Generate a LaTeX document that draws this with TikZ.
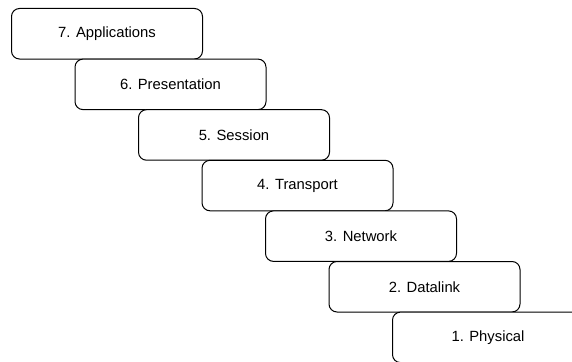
\documentclass[tikz,border=0pt]{standalone}
\usepackage{fontspec}
\setmainfont{Liberation Sans}
\begin{document}
\begin{tikzpicture}[x=1pt,y=-1pt,
  layer/.style={draw=black, line width=1pt, rounded corners=8pt, fill=white,
    minimum width=191pt, minimum height=50.5pt, inner sep=0pt,
    font=\fontsize{14.8}{17}\selectfont, anchor=north west}]
  \useasboundingbox (0,0) rectangle (572,361);
  \clip (0,0) rectangle (572,361);
  % staircase of the seven OSI layers
  \node[layer] (l7) at (11,8)       {7. Applications};
  \node[layer] (l6) at (74.5,58.6)  {6. Presentation};
  \node[layer] (l5) at (138,109.2)  {5. Session};
  \node[layer] (l4) at (201.5,159.8){4. Transport};
  \node[layer] (l3) at (265,210.4)  {3. Network};
  \node[layer] (l2) at (328.5,261)  {2. Datalink};
  \node[layer] (l1) at (392,311.6)  {1. Physical};
\end{tikzpicture}
\end{document}
